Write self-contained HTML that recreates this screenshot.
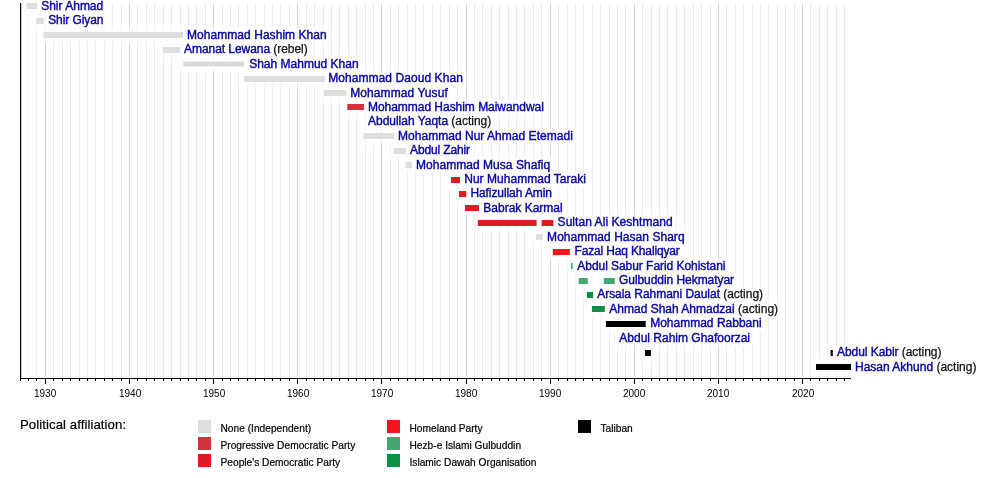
<!DOCTYPE html>
<html><head><meta charset="utf-8"><title>Timeline</title>
<style>
html,body{margin:0;padding:0;background:#fff}
#c{position:relative;width:1000px;height:478px;overflow:hidden;background:#fff;font-family:"Liberation Sans",Arial,sans-serif}
#c div,#c span,#c svg{position:absolute}
.h{height:14px;background:rgba(255,255,255,.72);box-shadow:0 0 3px 1px rgba(255,255,255,.72)}
.t{font-size:12px;line-height:14px;white-space:pre;color:#0707a0;-webkit-text-stroke:0.4px #0707a0}
.t i{font-style:normal;color:#111;-webkit-text-stroke:0.25px #111}
.y{font-size:10px;line-height:12px;top:387.8px;color:#000}
.l{font-size:10.2px;line-height:12px;white-space:pre;color:#000;-webkit-text-stroke:0.2px #000}
.s{width:13px;height:12.5px}
</style></head><body><div id="c">

<svg width="1000" height="478" viewBox="0 0 1000 478" style="left:0;top:0" shape-rendering="crispEdges"><g fill="#ebebeb"><rect x="28" y="4" width="1" height="374" fill="#f5f5f5"/><rect x="36" y="4" width="1" height="374" fill="#f0f0f0"/><rect x="53" y="4" width="1" height="374"/><rect x="62" y="4" width="1" height="374"/><rect x="70" y="4" width="1" height="374"/><rect x="79" y="4" width="1" height="374"/><rect x="87" y="4" width="1" height="374"/><rect x="95" y="4" width="1" height="374"/><rect x="104" y="4" width="1" height="374"/><rect x="112" y="4" width="1" height="374"/><rect x="121" y="4" width="1" height="374"/><rect x="137" y="4" width="1" height="374"/><rect x="146" y="4" width="1" height="374"/><rect x="154" y="4" width="1" height="374"/><rect x="163" y="4" width="1" height="374"/><rect x="171" y="4" width="1" height="374"/><rect x="180" y="4" width="1" height="374"/><rect x="188" y="4" width="1" height="374"/><rect x="196" y="4" width="1" height="374"/><rect x="205" y="4" width="1" height="374"/><rect x="222" y="4" width="1" height="374"/><rect x="230" y="4" width="1" height="374"/><rect x="238" y="4" width="1" height="374"/><rect x="247" y="4" width="1" height="374"/><rect x="255" y="4" width="1" height="374"/><rect x="264" y="4" width="1" height="374"/><rect x="272" y="4" width="1" height="374"/><rect x="280" y="4" width="1" height="374"/><rect x="289" y="4" width="1" height="374"/><rect x="306" y="4" width="1" height="374"/><rect x="314" y="4" width="1" height="374"/><rect x="323" y="4" width="1" height="374"/><rect x="331" y="4" width="1" height="374"/><rect x="339" y="4" width="1" height="374"/><rect x="348" y="4" width="1" height="374"/><rect x="356" y="4" width="1" height="374"/><rect x="365" y="4" width="1" height="374"/><rect x="373" y="4" width="1" height="374"/><rect x="390" y="4" width="1" height="374"/><rect x="398" y="4" width="1" height="374"/><rect x="407" y="4" width="1" height="374"/><rect x="415" y="4" width="1" height="374"/><rect x="423" y="4" width="1" height="374"/><rect x="432" y="4" width="1" height="374"/><rect x="440" y="4" width="1" height="374"/><rect x="449" y="4" width="1" height="374"/><rect x="457" y="4" width="1" height="374"/><rect x="474" y="4" width="1" height="374"/><rect x="482" y="4" width="1" height="374"/><rect x="491" y="4" width="1" height="374"/><rect x="499" y="4" width="1" height="374"/><rect x="508" y="4" width="1" height="374"/><rect x="516" y="4" width="1" height="374"/><rect x="524" y="4" width="1" height="374"/><rect x="533" y="4" width="1" height="374"/><rect x="541" y="4" width="1" height="374"/><rect x="558" y="4" width="1" height="374"/><rect x="567" y="4" width="1" height="374"/><rect x="575" y="4" width="1" height="374"/><rect x="583" y="4" width="1" height="374"/><rect x="592" y="4" width="1" height="374"/><rect x="600" y="4" width="1" height="374"/><rect x="609" y="4" width="1" height="374"/><rect x="617" y="4" width="1" height="374"/><rect x="625" y="4" width="1" height="374"/><rect x="642" y="4" width="1" height="374"/><rect x="651" y="4" width="1" height="374"/><rect x="659" y="4" width="1" height="374"/><rect x="667" y="4" width="1" height="374"/><rect x="676" y="4" width="1" height="374"/><rect x="684" y="4" width="1" height="374"/><rect x="693" y="4" width="1" height="374"/><rect x="701" y="4" width="1" height="374"/><rect x="710" y="4" width="1" height="374"/><rect x="726" y="4" width="1" height="374"/><rect x="735" y="4" width="1" height="374"/><rect x="743" y="4" width="1" height="374"/><rect x="752" y="4" width="1" height="374"/><rect x="760" y="4" width="1" height="374"/><rect x="768" y="4" width="1" height="374"/><rect x="777" y="4" width="1" height="374"/><rect x="785" y="4" width="1" height="374"/><rect x="794" y="4" width="1" height="374"/><rect x="810" y="4" width="1" height="374"/><rect x="819" y="4" width="1" height="374"/><rect x="827" y="4" width="1" height="374"/><rect x="836" y="4" width="1" height="374"/><rect x="844" y="4" width="1" height="374"/></g><g fill="#d1d1d1"><rect x="45" y="4" width="1" height="374"/><rect x="129" y="4" width="1" height="374"/><rect x="213" y="4" width="1" height="374"/><rect x="297" y="4" width="1" height="374"/><rect x="381" y="4" width="1" height="374"/><rect x="466" y="4" width="1" height="374"/><rect x="550" y="4" width="1" height="374"/><rect x="634" y="4" width="1" height="374"/><rect x="718" y="4" width="1" height="374"/><rect x="802" y="4" width="1" height="374"/></g></svg>
<div class="h" style="left:23.5px;top:-1.0px;width:82.7px"></div>
<div class="h" style="left:33.2px;top:14.0px;width:74.0px"></div>
<div class="h" style="left:40.5px;top:28.0px;width:288.2px"></div>
<div class="h" style="left:160.0px;top:43.0px;width:151.7px"></div>
<div class="h" style="left:179.5px;top:57.0px;width:182.1px"></div>
<div class="h" style="left:241.0px;top:72.0px;width:223.6px"></div>
<div class="h" style="left:320.8px;top:86.0px;width:128.9px"></div>
<div class="h" style="left:344.3px;top:100.0px;width:203.4px"></div>
<div class="h" style="left:366.0px;top:115.0px;width:128.6px"></div>
<div class="h" style="left:360.5px;top:129.0px;width:214.6px"></div>
<div class="h" style="left:390.5px;top:144.0px;width:83.9px"></div>
<div class="h" style="left:402.5px;top:158.0px;width:149.9px"></div>
<div class="h" style="left:448.0px;top:173.0px;width:140.4px"></div>
<div class="h" style="left:456.0px;top:187.0px;width:100.1px"></div>
<div class="h" style="left:462.0px;top:201.0px;width:103.7px"></div>
<div class="h" style="left:474.8px;top:216.0px;width:199.9px"></div>
<div class="h" style="left:533.0px;top:230.0px;width:153.8px"></div>
<div class="h" style="left:549.8px;top:245.0px;width:135.8px"></div>
<div class="h" style="left:568.0px;top:259.0px;width:161.7px"></div>
<div class="h" style="left:575.7px;top:274.0px;width:162.4px"></div>
<div class="h" style="left:583.9px;top:288.0px;width:183.1px"></div>
<div class="h" style="left:588.9px;top:302.0px;width:192.2px"></div>
<div class="h" style="left:602.9px;top:317.0px;width:161.7px"></div>
<div class="h" style="left:617.3px;top:331.0px;width:135.7px"></div>
<div class="h" style="left:827.6px;top:346.0px;width:117.8px"></div>
<div class="h" style="left:642.0px;top:346.0px;width:11.9px"></div>
<div class="h" style="left:813.0px;top:360.0px;width:166.4px"></div>
<svg width="1000" height="478" viewBox="0 0 1000 478" style="left:0;top:0"><rect x="26.5" y="3" width="10.7" height="6" fill="#dedede"/><rect x="36.2" y="18" width="7.8" height="6" fill="#dedede"/><rect x="43.5" y="32" width="139.5" height="6" fill="#dedede"/><rect x="163.0" y="47" width="17.0" height="6" fill="#dedede"/><rect x="182.5" y="61.00" width="61.5" height="6.0" fill="#dedede" fill-opacity="0.45"/><rect x="183.5" y="62.00" width="60.5" height="4.0" fill="#d4d4d4" fill-opacity="0.75"/><rect x="244.0" y="76" width="80.8" height="6" fill="#dedede"/><rect x="323.8" y="90" width="22.5" height="6" fill="#dedede"/><rect x="347.3" y="104" width="16.7" height="6" fill="#d0333b"/><rect x="363.5" y="133" width="30.5" height="6" fill="#dedede"/><rect x="393.5" y="148" width="12.5" height="6" fill="#dedede"/><rect x="405.5" y="162" width="6.5" height="6" fill="#dedede"/><rect x="451.0" y="177" width="9.0" height="6" fill="#dc1c24"/><rect x="459.0" y="191" width="7.2" height="6" fill="#dc1c24"/><rect x="465.0" y="205" width="14.0" height="6" fill="#dc1c24"/><rect x="477.8" y="220" width="58.8" height="6" fill="#dc1c24"/><rect x="541.6" y="220" width="11.8" height="6" fill="#dc1c24"/><rect x="536.0" y="234" width="6.8" height="6" fill="#dedede"/><rect x="552.8" y="249" width="17.0" height="6" fill="#f2141e"/><rect x="571.0" y="263" width="1.6" height="6" fill="#40a870"/><rect x="578.7" y="278" width="9.1" height="6" fill="#40a870"/><rect x="603.8" y="278" width="11.0" height="6" fill="#40a870"/><rect x="586.9" y="292" width="6.1" height="6" fill="#0c9046"/><rect x="591.9" y="306" width="12.9" height="6" fill="#0c9046"/><rect x="605.9" y="321" width="39.8" height="6" fill="#000000"/><rect x="645.0" y="350" width="5.9" height="6" fill="#000000"/><rect x="830.6" y="350" width="2.2" height="6" fill="#000000"/><rect x="816.0" y="364" width="35.0" height="6" fill="#000000"/><rect x="613.9" y="335.5" width="1" height="4.5" fill="#dcdcdc"/><rect x="20" y="3" width="1.2" height="376" fill="#000"/><rect x="20" y="378" width="831" height="1" fill="#000" shape-rendering="crispEdges"/><g fill="#000" shape-rendering="crispEdges"><rect x="20" y="378" width="1" height="3"/><rect x="28" y="378" width="1" height="3"/><rect x="36" y="378" width="1" height="3"/><rect x="45" y="378" width="1" height="6"/><rect x="53" y="378" width="1" height="3"/><rect x="62" y="378" width="1" height="3"/><rect x="70" y="378" width="1" height="3"/><rect x="79" y="378" width="1" height="3"/><rect x="87" y="378" width="1" height="3"/><rect x="95" y="378" width="1" height="3"/><rect x="104" y="378" width="1" height="3"/><rect x="112" y="378" width="1" height="3"/><rect x="121" y="378" width="1" height="3"/><rect x="129" y="378" width="1" height="6"/><rect x="137" y="378" width="1" height="3"/><rect x="146" y="378" width="1" height="3"/><rect x="154" y="378" width="1" height="3"/><rect x="163" y="378" width="1" height="3"/><rect x="171" y="378" width="1" height="3"/><rect x="180" y="378" width="1" height="3"/><rect x="188" y="378" width="1" height="3"/><rect x="196" y="378" width="1" height="3"/><rect x="205" y="378" width="1" height="3"/><rect x="213" y="378" width="1" height="6"/><rect x="222" y="378" width="1" height="3"/><rect x="230" y="378" width="1" height="3"/><rect x="238" y="378" width="1" height="3"/><rect x="247" y="378" width="1" height="3"/><rect x="255" y="378" width="1" height="3"/><rect x="264" y="378" width="1" height="3"/><rect x="272" y="378" width="1" height="3"/><rect x="280" y="378" width="1" height="3"/><rect x="289" y="378" width="1" height="3"/><rect x="297" y="378" width="1" height="6"/><rect x="306" y="378" width="1" height="3"/><rect x="314" y="378" width="1" height="3"/><rect x="323" y="378" width="1" height="3"/><rect x="331" y="378" width="1" height="3"/><rect x="339" y="378" width="1" height="3"/><rect x="348" y="378" width="1" height="3"/><rect x="356" y="378" width="1" height="3"/><rect x="365" y="378" width="1" height="3"/><rect x="373" y="378" width="1" height="3"/><rect x="381" y="378" width="1" height="6"/><rect x="390" y="378" width="1" height="3"/><rect x="398" y="378" width="1" height="3"/><rect x="407" y="378" width="1" height="3"/><rect x="415" y="378" width="1" height="3"/><rect x="423" y="378" width="1" height="3"/><rect x="432" y="378" width="1" height="3"/><rect x="440" y="378" width="1" height="3"/><rect x="449" y="378" width="1" height="3"/><rect x="457" y="378" width="1" height="3"/><rect x="466" y="378" width="1" height="6"/><rect x="474" y="378" width="1" height="3"/><rect x="482" y="378" width="1" height="3"/><rect x="491" y="378" width="1" height="3"/><rect x="499" y="378" width="1" height="3"/><rect x="508" y="378" width="1" height="3"/><rect x="516" y="378" width="1" height="3"/><rect x="524" y="378" width="1" height="3"/><rect x="533" y="378" width="1" height="3"/><rect x="541" y="378" width="1" height="3"/><rect x="550" y="378" width="1" height="6"/><rect x="558" y="378" width="1" height="3"/><rect x="567" y="378" width="1" height="3"/><rect x="575" y="378" width="1" height="3"/><rect x="583" y="378" width="1" height="3"/><rect x="592" y="378" width="1" height="3"/><rect x="600" y="378" width="1" height="3"/><rect x="609" y="378" width="1" height="3"/><rect x="617" y="378" width="1" height="3"/><rect x="625" y="378" width="1" height="3"/><rect x="634" y="378" width="1" height="6"/><rect x="642" y="378" width="1" height="3"/><rect x="651" y="378" width="1" height="3"/><rect x="659" y="378" width="1" height="3"/><rect x="667" y="378" width="1" height="3"/><rect x="676" y="378" width="1" height="3"/><rect x="684" y="378" width="1" height="3"/><rect x="693" y="378" width="1" height="3"/><rect x="701" y="378" width="1" height="3"/><rect x="710" y="378" width="1" height="3"/><rect x="718" y="378" width="1" height="6"/><rect x="726" y="378" width="1" height="3"/><rect x="735" y="378" width="1" height="3"/><rect x="743" y="378" width="1" height="3"/><rect x="752" y="378" width="1" height="3"/><rect x="760" y="378" width="1" height="3"/><rect x="768" y="378" width="1" height="3"/><rect x="777" y="378" width="1" height="3"/><rect x="785" y="378" width="1" height="3"/><rect x="794" y="378" width="1" height="3"/><rect x="802" y="378" width="1" height="6"/><rect x="810" y="378" width="1" height="3"/><rect x="819" y="378" width="1" height="3"/><rect x="827" y="378" width="1" height="3"/><rect x="836" y="378" width="1" height="3"/><rect x="844" y="378" width="1" height="3"/></g></svg>
<span class="t" style="left:41.2px;top:-1px">Shir Ahmad</span>
<span class="t" style="left:48.2px;top:13px;letter-spacing:-0.078px">Shir Giyan</span>
<span class="t" style="left:187.0px;top:28px;letter-spacing:0.053px">Mohammad Hashim Khan</span>
<span class="t" style="left:184.0px;top:42px;letter-spacing:-0.055px">Amanat Lewana<i> (rebel)</i></span>
<span class="t" style="left:249.2px;top:57px">Shah Mahmud Khan</span>
<span class="t" style="left:328.2px;top:71px;letter-spacing:0.069px">Mohammad Daoud Khan</span>
<span class="t" style="left:350.2px;top:86px;letter-spacing:0.085px">Mohammad Yusuf</span>
<span class="t" style="left:368.0px;top:100px;letter-spacing:-0.036px">Mohammad Hashim Maiwandwal</span>
<span class="t" style="left:368.0px;top:114px;letter-spacing:-0.018px">Abdullah Yaqta<i> (acting)</i></span>
<span class="t" style="left:398.0px;top:129px;letter-spacing:0.030px">Mohammad Nur Ahmad Etemadi</span>
<span class="t" style="left:410.0px;top:143px;letter-spacing:-0.125px">Abdul Zahir</span>
<span class="t" style="left:416.0px;top:158px;letter-spacing:0.039px">Mohammad Musa Shafiq</span>
<span class="t" style="left:464.2px;top:172px;letter-spacing:0.033px">Nur Muhammad Taraki</span>
<span class="t" style="left:470.4px;top:186px;letter-spacing:-0.079px">Hafizullah Amin</span>
<span class="t" style="left:483.3px;top:201px">Babrak Karmal</span>
<span class="t" style="left:557.6px;top:215px;letter-spacing:0.047px">Sultan Ali Keshtmand</span>
<span class="t" style="left:547.1px;top:230px;letter-spacing:0.039px">Mohammad Hasan Sharq</span>
<span class="t" style="left:574.5px;top:244px;letter-spacing:-0.153px">Fazal Haq Khaliqyar</span>
<span class="t" style="left:577.3px;top:259px;letter-spacing:-0.048px">Abdul Sabur Farid Kohistani</span>
<span class="t" style="left:619.0px;top:273px;letter-spacing:-0.056px">Gulbuddin Hekmatyar</span>
<span class="t" style="left:597.2px;top:287px;letter-spacing:-0.031px">Arsala Rahmani Daulat<i> (acting)</i></span>
<span class="t" style="left:609.3px;top:302px">Ahmad Shah Ahmadzai<i> (acting)</i></span>
<span class="t" style="left:650.2px;top:316px">Mohammad Rabbani</span>
<span class="t" style="left:619.3px;top:331px">Abdul Rahim Ghafoorzai</span>
<span class="t" style="left:837.0px;top:345px;letter-spacing:-0.053px">Abdul Kabir<i> (acting)</i></span>
<span class="t" style="left:855.0px;top:360px">Hasan Akhund<i> (acting)</i></span>
<span class="y" style="left:34px">1930</span>
<span class="y" style="left:119px">1940</span>
<span class="y" style="left:203px">1950</span>
<span class="y" style="left:287px">1960</span>
<span class="y" style="left:371px">1970</span>
<span class="y" style="left:455px">1980</span>
<span class="y" style="left:539px">1990</span>
<span class="y" style="left:623px">2000</span>
<span class="y" style="left:707px">2010</span>
<span class="y" style="left:792px">2020</span>
<span style="left:20px;top:417px;font-size:13.2px;line-height:15px;white-space:pre;color:#000;letter-spacing:0.07px;-webkit-text-stroke:0.2px #000">Political affiliation:</span>
<div class="s" style="left:198px;top:420.0px;background:#dedede"></div>
<span class="l" style="left:220.5px;top:423.4px">None (Independent)</span>
<div class="s" style="left:198px;top:437.0px;background:#d0333b"></div>
<span class="l" style="left:220.5px;top:440.4px">Progressive Democratic Party</span>
<div class="s" style="left:198px;top:454.0px;background:#dc1c24"></div>
<span class="l" style="left:220.5px;top:457.4px">People's Democratic Party</span>
<div class="s" style="left:387px;top:420.0px;background:#f2141e"></div>
<span class="l" style="left:409.5px;top:423.4px">Homeland Party</span>
<div class="s" style="left:387px;top:437.0px;background:#40a870"></div>
<span class="l" style="left:409.5px;top:440.4px">Hezb-e Islami Gulbuddin</span>
<div class="s" style="left:387px;top:454.0px;background:#0c9046"></div>
<span class="l" style="left:409.5px;top:457.4px">Islamic Dawah Organisation</span>
<div class="s" style="left:578px;top:420.0px;background:#000000"></div>
<span class="l" style="left:600.5px;top:423.4px">Taliban</span>
</div></body></html>
